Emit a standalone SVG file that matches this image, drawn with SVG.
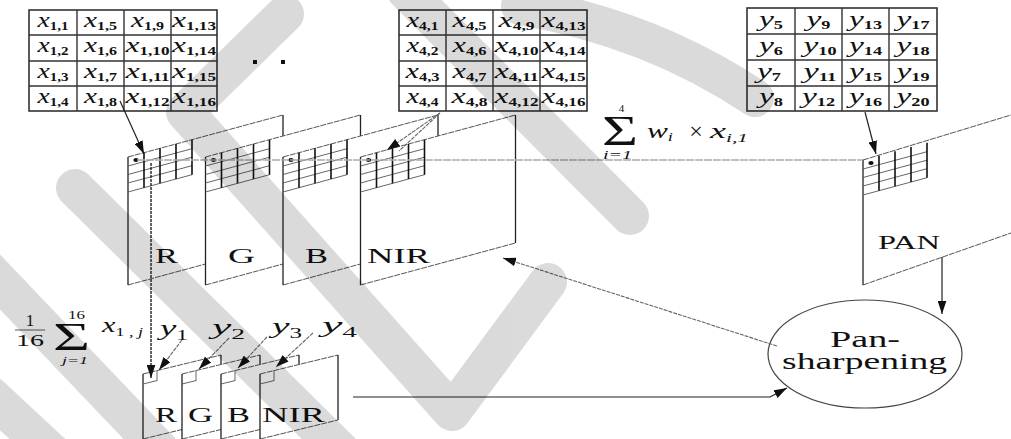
<svg xmlns="http://www.w3.org/2000/svg" xmlns:xlink="http://www.w3.org/1999/xlink" width="1011" height="439" viewBox="0 0 1011 439" font-family="'Liberation Serif','DejaVu Serif',serif">
<style>
text{font-family:"Liberation Serif","DejaVu Serif",serif;fill:#111}
.v{font-style:italic;font-size:22px}
.sb{font-size:12px;font-weight:bold}
.ss{font-size:13px}
.lab{font-size:22px}
.mx{fill:#fff;stroke:#333;stroke-width:1.6}
.ml{stroke:#333;stroke-width:1.4;fill:none}
.sl{stroke:#555;stroke-width:1;stroke-dasharray:6 1;fill:none}
.vl{stroke:#222;stroke-width:1.3;fill:none}
.gh{stroke:#555;stroke-width:0.9;fill:none}
.gv{stroke:#111;stroke-width:1.6;fill:none}
.ar{stroke:#222;stroke-width:1.2;fill:none}
.gl{stroke:#aaa;stroke-width:1.5;stroke-dasharray:8 1;fill:none}
.dl{stroke:#222;stroke-width:1.4;stroke-dasharray:3 1;fill:none}
.pl{stroke:#666;stroke-width:1.1;stroke-dasharray:4 1;fill:none}
.wm{stroke:#000;stroke-width:38;stroke-linecap:round;stroke-linejoin:round;fill:none}
</style>
<defs>
<marker id="ah" viewBox="0 0 12 8" refX="12" refY="4" markerWidth="13" markerHeight="9" markerUnits="userSpaceOnUse" orient="auto">
<path d="M0,0 L12,4 L0,8 Z" fill="#111"/>
</marker>
<g id="grid">
<path class="gh" d="M0,9 L64,-8.3 M0,17.5 L64,0.2 M0,26 L64,8.7 M0,35 L64,17.7"/>
<path class="gv" d="M16,-4.3 V30.7 M32,-8.7 V26.3 M48,-13 V22 M64,-17.3 V17.7"/>
<ellipse cx="8" cy="3" rx="2.6" ry="2" fill="#111"/>
</g>
<g id="bigpanel">
<path d="M0,0 L155,-42 L155,86 L0,128 Z" fill="#fff"/>
<path class="sl" d="M0,0 L155,-42 M0,128 L155,86"/>
<path class="vl" d="M0,0 V128 M155,-42 V86"/>
<use xlink:href="#grid"/>
</g>
<g id="smallpanel">
<path d="M0,0 L78,-19 L78,46 L0,65 Z" fill="#fff"/>
<path class="sl" d="M0,0 L78,-19 M0,65 L78,46"/>
<path class="vl" d="M0,0 V65 M78,-19 V46"/>
<path class="gh" d="M14,-3.4 V7 M0,10 L14,6.6"/>
</g>
</defs>
<rect width="1011" height="439" fill="#fff"/>

<g id="matrix-x1">
<rect class="mx" x="29" y="10" width="188" height="101"/>
<path class="ml" d="M77,10 V111 M124,10 V111 M171,10 V111 M29,35 H217 M29,61 H217 M29,86 H217"/>
<g text-anchor="middle">
<text x="53" y="27" textLength="31" lengthAdjust="spacingAndGlyphs"><tspan class="v">x</tspan><tspan class="sb" dy="3">1,1</tspan></text>
<text x="53" y="52" textLength="31" lengthAdjust="spacingAndGlyphs"><tspan class="v">x</tspan><tspan class="sb" dy="3">1,2</tspan></text>
<text x="53" y="78" textLength="31" lengthAdjust="spacingAndGlyphs"><tspan class="v">x</tspan><tspan class="sb" dy="3">1,3</tspan></text>
<text x="53" y="103" textLength="31" lengthAdjust="spacingAndGlyphs"><tspan class="v">x</tspan><tspan class="sb" dy="3">1,4</tspan></text>
<text x="100.5" y="27" textLength="33" lengthAdjust="spacingAndGlyphs"><tspan class="v">x</tspan><tspan class="sb" dy="3">1,5</tspan></text>
<text x="100.5" y="52" textLength="33" lengthAdjust="spacingAndGlyphs"><tspan class="v">x</tspan><tspan class="sb" dy="3">1,6</tspan></text>
<text x="100.5" y="78" textLength="33" lengthAdjust="spacingAndGlyphs"><tspan class="v">x</tspan><tspan class="sb" dy="3">1,7</tspan></text>
<text x="100.5" y="103" textLength="33" lengthAdjust="spacingAndGlyphs"><tspan class="v">x</tspan><tspan class="sb" dy="3">1,8</tspan></text>
<text x="147.5" y="27" textLength="33" lengthAdjust="spacingAndGlyphs"><tspan class="v">x</tspan><tspan class="sb" dy="3">1,9</tspan></text>
<text x="147.5" y="52" textLength="44" lengthAdjust="spacingAndGlyphs"><tspan class="v">x</tspan><tspan class="sb" dy="3">1,10</tspan></text>
<text x="147.5" y="78" textLength="44" lengthAdjust="spacingAndGlyphs"><tspan class="v">x</tspan><tspan class="sb" dy="3">1,11</tspan></text>
<text x="147.5" y="103" textLength="44" lengthAdjust="spacingAndGlyphs"><tspan class="v">x</tspan><tspan class="sb" dy="3">1,12</tspan></text>
<text x="194" y="27" textLength="44" lengthAdjust="spacingAndGlyphs"><tspan class="v">x</tspan><tspan class="sb" dy="3">1,13</tspan></text>
<text x="194" y="52" textLength="44" lengthAdjust="spacingAndGlyphs"><tspan class="v">x</tspan><tspan class="sb" dy="3">1,14</tspan></text>
<text x="194" y="78" textLength="44" lengthAdjust="spacingAndGlyphs"><tspan class="v">x</tspan><tspan class="sb" dy="3">1,15</tspan></text>
<text x="194" y="103" textLength="44" lengthAdjust="spacingAndGlyphs"><tspan class="v">x</tspan><tspan class="sb" dy="3">1,16</tspan></text>
</g>
</g>

<g id="ellipsis">
<rect x="253" y="60" width="4" height="4" fill="#111"/>
<rect x="281" y="60" width="4" height="4" fill="#111"/>
</g>

<g id="matrix-x4">
<rect class="mx" x="399" y="10" width="188" height="101"/>
<path class="ml" d="M446,10 V111 M493,10 V111 M540,10 V111 M399,35 H587 M399,61 H587 M399,86 H587"/>
<g text-anchor="middle">
<text x="422.5" y="27" textLength="32" lengthAdjust="spacingAndGlyphs"><tspan class="v">x</tspan><tspan class="sb" dy="3">4,1</tspan></text>
<text x="422.5" y="52" textLength="32" lengthAdjust="spacingAndGlyphs"><tspan class="v">x</tspan><tspan class="sb" dy="3">4,2</tspan></text>
<text x="422.5" y="78" textLength="34" lengthAdjust="spacingAndGlyphs"><tspan class="v">x</tspan><tspan class="sb" dy="3">4,3</tspan></text>
<text x="422.5" y="103" textLength="32" lengthAdjust="spacingAndGlyphs"><tspan class="v">x</tspan><tspan class="sb" dy="3">4,4</tspan></text>
<text x="469.5" y="27" textLength="34" lengthAdjust="spacingAndGlyphs"><tspan class="v">x</tspan><tspan class="sb" dy="3">4,5</tspan></text>
<text x="469.5" y="52" textLength="34" lengthAdjust="spacingAndGlyphs"><tspan class="v">x</tspan><tspan class="sb" dy="3">4,6</tspan></text>
<text x="469.5" y="78" textLength="34" lengthAdjust="spacingAndGlyphs"><tspan class="v">x</tspan><tspan class="sb" dy="3">4,7</tspan></text>
<text x="469.5" y="103" textLength="36" lengthAdjust="spacingAndGlyphs"><tspan class="v">x</tspan><tspan class="sb" dy="3">4,8</tspan></text>
<text x="516.5" y="27" textLength="36" lengthAdjust="spacingAndGlyphs"><tspan class="v">x</tspan><tspan class="sb" dy="3">4,9</tspan></text>
<text x="516.5" y="52" textLength="44" lengthAdjust="spacingAndGlyphs"><tspan class="v">x</tspan><tspan class="sb" dy="3">4,10</tspan></text>
<text x="516.5" y="78" textLength="44" lengthAdjust="spacingAndGlyphs"><tspan class="v">x</tspan><tspan class="sb" dy="3">4,11</tspan></text>
<text x="516.5" y="103" textLength="44" lengthAdjust="spacingAndGlyphs"><tspan class="v">x</tspan><tspan class="sb" dy="3">4,12</tspan></text>
<text x="563.5" y="27" textLength="44" lengthAdjust="spacingAndGlyphs"><tspan class="v">x</tspan><tspan class="sb" dy="3">4,13</tspan></text>
<text x="563.5" y="52" textLength="44" lengthAdjust="spacingAndGlyphs"><tspan class="v">x</tspan><tspan class="sb" dy="3">4,14</tspan></text>
<text x="563.5" y="78" textLength="44" lengthAdjust="spacingAndGlyphs"><tspan class="v">x</tspan><tspan class="sb" dy="3">4,15</tspan></text>
<text x="563.5" y="103" textLength="44" lengthAdjust="spacingAndGlyphs"><tspan class="v">x</tspan><tspan class="sb" dy="3">4,16</tspan></text>
</g>
</g>

<g id="matrix-y">
<rect class="mx" x="747" y="8" width="190" height="103"/>
<path class="ml" d="M795,8 V111 M842,8 V111 M889,8 V111 M747,34 H937 M747,60 H937 M747,86 H937"/>
<g text-anchor="middle">
<text x="771" y="26" textLength="24" lengthAdjust="spacingAndGlyphs"><tspan class="v">y</tspan><tspan class="sb" dy="3">5</tspan></text>
<text x="771" y="52" textLength="24" lengthAdjust="spacingAndGlyphs"><tspan class="v">y</tspan><tspan class="sb" dy="3">6</tspan></text>
<text x="769" y="78" textLength="24" lengthAdjust="spacingAndGlyphs"><tspan class="v">y</tspan><tspan class="sb" dy="3">7</tspan></text>
<text x="771" y="103" textLength="24" lengthAdjust="spacingAndGlyphs"><tspan class="v">y</tspan><tspan class="sb" dy="3">8</tspan></text>
<text x="818.5" y="26" textLength="24" lengthAdjust="spacingAndGlyphs"><tspan class="v">y</tspan><tspan class="sb" dy="3">9</tspan></text>
<text x="820" y="52" textLength="33" lengthAdjust="spacingAndGlyphs"><tspan class="v">y</tspan><tspan class="sb" dy="3">10</tspan></text>
<text x="820" y="78" textLength="33" lengthAdjust="spacingAndGlyphs"><tspan class="v">y</tspan><tspan class="sb" dy="3">11</tspan></text>
<text x="818.5" y="103" textLength="33" lengthAdjust="spacingAndGlyphs"><tspan class="v">y</tspan><tspan class="sb" dy="3">12</tspan></text>
<text x="865.5" y="26" textLength="33" lengthAdjust="spacingAndGlyphs"><tspan class="v">y</tspan><tspan class="sb" dy="3">13</tspan></text>
<text x="865.5" y="52" textLength="33" lengthAdjust="spacingAndGlyphs"><tspan class="v">y</tspan><tspan class="sb" dy="3">14</tspan></text>
<text x="865.5" y="78" textLength="33" lengthAdjust="spacingAndGlyphs"><tspan class="v">y</tspan><tspan class="sb" dy="3">15</tspan></text>
<text x="865.5" y="103" textLength="33" lengthAdjust="spacingAndGlyphs"><tspan class="v">y</tspan><tspan class="sb" dy="3">16</tspan></text>
<text x="913" y="26" textLength="33" lengthAdjust="spacingAndGlyphs"><tspan class="v">y</tspan><tspan class="sb" dy="3">17</tspan></text>
<text x="913" y="52" textLength="33" lengthAdjust="spacingAndGlyphs"><tspan class="v">y</tspan><tspan class="sb" dy="3">18</tspan></text>
<text x="913" y="78" textLength="33" lengthAdjust="spacingAndGlyphs"><tspan class="v">y</tspan><tspan class="sb" dy="3">19</tspan></text>
<text x="913" y="103" textLength="33" lengthAdjust="spacingAndGlyphs"><tspan class="v">y</tspan><tspan class="sb" dy="3">20</tspan></text>
</g>
</g>

<g id="band-R"><use xlink:href="#bigpanel" x="128" y="157"/><text class="lab" x="166.5" y="263" text-anchor="middle" textLength="23" lengthAdjust="spacingAndGlyphs">R</text></g>
<g id="band-G"><use xlink:href="#bigpanel" x="205.5" y="157"/><text class="lab" x="241.5" y="263" text-anchor="middle" textLength="27" lengthAdjust="spacingAndGlyphs">G</text></g>
<g id="band-B"><use xlink:href="#bigpanel" x="283" y="157"/><text class="lab" x="316.5" y="263" text-anchor="middle" textLength="23" lengthAdjust="spacingAndGlyphs">B</text></g>
<g id="band-NIR"><use xlink:href="#bigpanel" x="360.5" y="157"/><text class="lab" x="398.5" y="263" text-anchor="middle" textLength="63" lengthAdjust="spacingAndGlyphs">NIR</text></g>

<g id="band-PAN">
<path d="M863,160 L1011,115 L1011,233 L863,285 Z" fill="#fff"/>
<path class="sl" d="M863,160 L1011,115 M863,285 L1011,233"/>
<path class="vl" d="M863,160 V285"/>
<use xlink:href="#grid" x="863" y="160"/>
<text x="909" y="249" font-size="18" text-anchor="middle" textLength="62" lengthAdjust="spacingAndGlyphs">PAN</text>
</g>

<g id="small-R"><use xlink:href="#smallpanel" x="143" y="374"/><text class="lab" x="166" y="422" text-anchor="middle" textLength="22" lengthAdjust="spacingAndGlyphs">R</text></g>
<g id="small-G"><use xlink:href="#smallpanel" x="182" y="374"/><text class="lab" x="200.5" y="422" text-anchor="middle" textLength="25" lengthAdjust="spacingAndGlyphs">G</text></g>
<g id="small-B"><use xlink:href="#smallpanel" x="221" y="374"/><text class="lab" x="238.5" y="422" text-anchor="middle" textLength="23" lengthAdjust="spacingAndGlyphs">B</text></g>
<g id="small-NIR"><use xlink:href="#smallpanel" x="260" y="374"/><text class="lab" x="293.5" y="422" text-anchor="middle" textLength="63" lengthAdjust="spacingAndGlyphs">NIR</text></g>

<g id="pansharpening">
<ellipse cx="865" cy="354" rx="97" ry="54" fill="#fff" stroke="#444" stroke-width="1.2"/>
<text x="865" y="347" font-size="24" text-anchor="middle" textLength="70" lengthAdjust="spacingAndGlyphs">Pan-</text>
<text x="864.5" y="369" font-size="24" text-anchor="middle" textLength="165" lengthAdjust="spacingAndGlyphs">sharpening</text>
</g>

<g id="formula-weighted">
<text x="620" y="145" font-size="42" text-anchor="middle" textLength="36" lengthAdjust="spacingAndGlyphs">Σ</text>
<text x="621.5" y="112" font-size="11" text-anchor="middle">4</text>
<text x="617.5" y="159" font-size="12" font-style="italic" text-anchor="middle" textLength="29" lengthAdjust="spacingAndGlyphs">i=1</text>
<text x="647" y="138" textLength="26" lengthAdjust="spacingAndGlyphs"><tspan class="v" font-size="24">w</tspan><tspan class="ss" font-style="italic" dy="3">i</tspan></text>
<text x="696" y="139" font-size="24" text-anchor="middle">×</text>
<text x="710" y="138" textLength="38" lengthAdjust="spacingAndGlyphs"><tspan class="v" font-size="24">x</tspan><tspan class="ss" font-style="italic" dy="4">i,1</tspan></text>
</g>

<g id="formula-mean">
<text x="30" y="326" font-size="17" text-anchor="middle">1</text>
<line x1="15" y1="330" x2="45" y2="330" stroke="#888" stroke-width="1.4"/>
<text x="30" y="346" font-size="17" text-anchor="middle" textLength="28" lengthAdjust="spacingAndGlyphs">16</text>
<text x="71.5" y="350" font-size="40" text-anchor="middle" textLength="37" lengthAdjust="spacingAndGlyphs">Σ</text>
<text x="76.5" y="319" font-size="12" text-anchor="middle" textLength="17" lengthAdjust="spacingAndGlyphs">16</text>
<text x="75" y="364" font-size="11" font-style="italic" text-anchor="middle" textLength="26" lengthAdjust="spacingAndGlyphs">j=1</text>
<text x="102" y="332" textLength="41" lengthAdjust="spacingAndGlyphs"><tspan class="v">x</tspan><tspan class="ss" dy="4">1 , </tspan><tspan class="ss" font-style="italic">j</tspan></text>
</g>

<g id="labels-y">
<text x="160" y="335" textLength="28" lengthAdjust="spacingAndGlyphs"><tspan class="v">y</tspan><tspan font-size="14" dy="5">1</tspan></text>
<text x="212" y="334" textLength="33" lengthAdjust="spacingAndGlyphs"><tspan class="v">y</tspan><tspan font-size="14" dy="5">2</tspan></text>
<text x="272" y="333" textLength="30" lengthAdjust="spacingAndGlyphs"><tspan class="v">y</tspan><tspan font-size="14" dy="5">3</tspan></text>
<text x="322" y="332" textLength="35" lengthAdjust="spacingAndGlyphs"><tspan class="v">y</tspan><tspan font-size="14" dy="5">4</tspan></text>
</g>

<g id="connectors">
<path class="gl" d="M137,160 H863"/>
<path class="ar" d="M120,101 L144,154" marker-end="url(#ah)"/>
<path class="pl" d="M440,113 L387,150" marker-end="url(#ah)"/>
<path class="pl" d="M440,113 L399,151"/>
<path class="ar" d="M865,112 L876,154" marker-end="url(#ah)"/>
<path class="dl" d="M151,163 V378" marker-end="url(#ah)"/>
<path class="pl" d="M182,340 L159,370" marker-end="url(#ah)"/>
<path class="pl" d="M229,338 L199,369" marker-end="url(#ah)"/>
<path class="pl" d="M267,337 L238,368" marker-end="url(#ah)"/>
<path class="pl" d="M313,333 L276,367" marker-end="url(#ah)"/>
<path class="ar" d="M353,397 H770 L787,388" stroke-width="1.6" marker-end="url(#ah)"/>
<path class="pl" d="M777,346 L503,258" marker-end="url(#ah)"/>
<path class="ar" d="M942,257 V314" marker-end="url(#ah)"/>
</g>

<g id="watermark" opacity="0.14">
<path class="wm" d="M75,188 L345,455"/>
<path class="wm" d="M-40,240 L165,455"/>
<path class="wm" d="M-10,395 L60,460"/>
<path class="wm" d="M285,14 L185,112 L452,412 L548,282"/>
<path class="wm" d="M405,-10 L630,216"/>
<path class="wm" d="M520,6 Q650,28 755,98"/>
</g>
</svg>
